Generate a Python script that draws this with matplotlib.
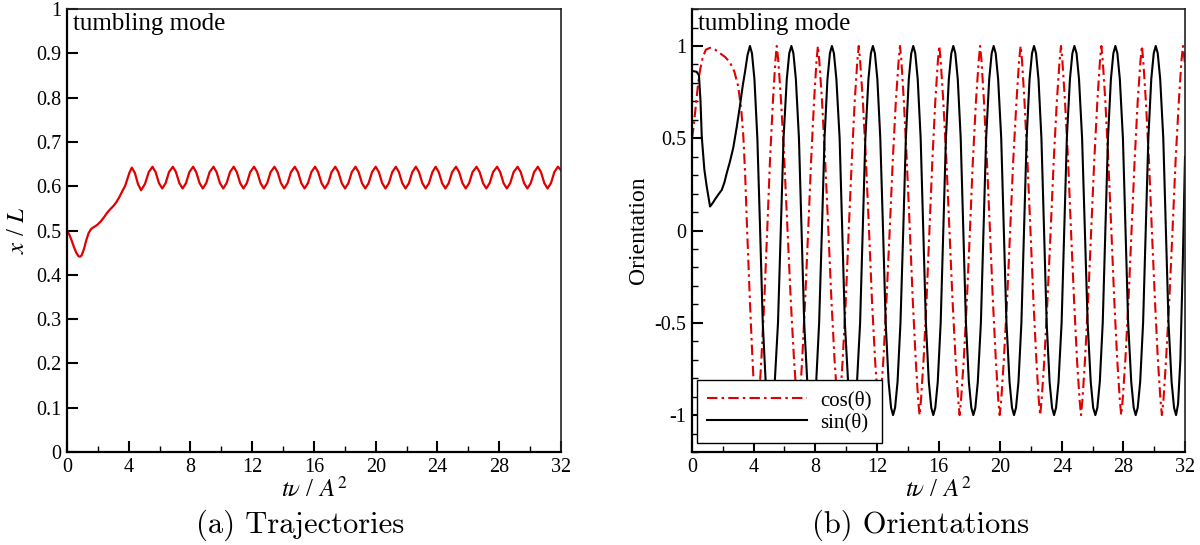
#!/usr/bin/env python3
"""Tumbling mode: particle trajectory (a) and orientation (b) over time."""

import matplotlib
matplotlib.use("Agg")
import matplotlib.pyplot as plt
from matplotlib.ticker import MultipleLocator, FormatStrFormatter

plt.rcParams["font.family"] = ["Liberation Serif", "DejaVu Serif"]
plt.rcParams["mathtext.fontset"] = "stix"
plt.rcParams["axes.unicode_minus"] = False

RED = "#e00000"

# ---- (a) trajectory x/L ----
traj_t = [
    0.0, 0.15, 0.3, 0.45, 0.6, 0.75, 0.85, 0.95, 1.1, 1.25, 1.4, 1.55, 1.7, 1.85,
    2.0, 2.2, 2.4, 2.6, 2.8, 3.0, 3.2, 3.4, 3.6, 3.76, 3.9, 4.05,
    4.2, 4.4, 4.6, 4.8, 5.05, 5.3,
    5.54, 5.74, 5.96, 6.17, 6.39, 6.61,
    6.86, 7.06, 7.28, 7.49, 7.71, 7.93,
    8.17, 8.37, 8.59, 8.80, 9.02, 9.24,
    9.49, 9.69, 9.91, 10.12, 10.34, 10.56,
    10.80, 11.00, 11.22, 11.43, 11.65, 11.87,
    12.12, 12.32, 12.54, 12.75, 12.97, 13.19,
    13.44, 13.64, 13.86, 14.07, 14.29, 14.51,
    14.76, 14.96, 15.18, 15.39, 15.61, 15.83,
    16.07, 16.27, 16.49, 16.70, 16.92, 17.14,
    17.38, 17.58, 17.80, 18.01, 18.23, 18.45,
    18.69, 18.89, 19.11, 19.32, 19.54, 19.76,
    20.00, 20.20, 20.42, 20.63, 20.85, 21.07,
    21.30, 21.50, 21.72, 21.93, 22.15, 22.37,
    22.60, 22.80, 23.02, 23.23, 23.45, 23.67,
    23.88, 24.08, 24.30, 24.51, 24.73, 24.95,
    25.20, 25.40, 25.62, 25.83, 26.05, 26.27,
    26.53, 26.73, 26.95, 27.16, 27.38, 27.60,
    27.86, 28.06, 28.28, 28.49, 28.71, 28.93,
    29.19, 29.39, 29.61, 29.82, 30.04, 30.26,
    30.50, 30.70, 30.92, 31.13, 31.35, 31.57,
    31.80, 32.00,
]
traj_x = [
    0.500, 0.491, 0.478, 0.463, 0.450, 0.442, 0.441, 0.444, 0.458, 0.478, 0.494, 0.503, 0.507, 0.510,
    0.514, 0.521, 0.530, 0.540, 0.548, 0.555, 0.564, 0.576, 0.590, 0.600, 0.615, 0.631,
    0.642, 0.630, 0.605, 0.591, 0.605, 0.632,
    0.644, 0.632, 0.607, 0.595, 0.607, 0.632,
    0.644, 0.632, 0.607, 0.595, 0.607, 0.632,
    0.644, 0.632, 0.607, 0.595, 0.607, 0.632,
    0.644, 0.632, 0.607, 0.595, 0.607, 0.632,
    0.644, 0.632, 0.607, 0.595, 0.607, 0.632,
    0.644, 0.632, 0.607, 0.595, 0.607, 0.632,
    0.644, 0.632, 0.607, 0.595, 0.607, 0.632,
    0.644, 0.632, 0.607, 0.595, 0.607, 0.632,
    0.644, 0.632, 0.607, 0.595, 0.607, 0.632,
    0.644, 0.632, 0.607, 0.595, 0.607, 0.632,
    0.644, 0.632, 0.607, 0.595, 0.607, 0.632,
    0.644, 0.632, 0.607, 0.595, 0.607, 0.632,
    0.644, 0.632, 0.607, 0.595, 0.607, 0.632,
    0.644, 0.632, 0.607, 0.595, 0.607, 0.632,
    0.644, 0.632, 0.607, 0.595, 0.607, 0.632,
    0.644, 0.632, 0.607, 0.595, 0.607, 0.632,
    0.644, 0.632, 0.607, 0.595, 0.607, 0.632,
    0.644, 0.632, 0.607, 0.595, 0.607, 0.632,
    0.644, 0.632, 0.607, 0.595, 0.607, 0.632,
    0.644, 0.632, 0.607, 0.595, 0.607, 0.632,
    0.644, 0.636,
]

# ---- (b) orientation: cos(theta) ----
cos_t = [
    0.0, 0.1, 0.25, 0.4, 0.52, 0.7, 0.9, 1.17, 1.5, 1.82, 2.15, 2.47, 2.75, 3.0,
    3.2, 3.33, 3.45, 3.55, 3.66, 3.76, 3.88, 3.98, 4.1, 4.25,
    4.34, 4.50, 4.69, 4.88, 5.06, 5.25, 5.41, 5.50,
    5.60, 5.78, 5.99, 6.20, 6.41, 6.62, 6.80, 6.90,
    6.99, 7.15, 7.34, 7.54, 7.73, 7.92, 8.08, 8.17,
    8.26, 8.44, 8.64, 8.85, 9.05, 9.25, 9.43, 9.52,
    9.61, 9.78, 9.98, 10.17, 10.37, 10.56, 10.73, 10.82,
    10.91, 11.09, 11.29, 11.49, 11.68, 11.88, 12.06, 12.15,
    12.24, 12.42, 12.62, 12.83, 13.03, 13.23, 13.41, 13.50,
    13.59, 13.75, 13.94, 14.14, 14.33, 14.52, 14.68, 14.77,
    14.86, 15.03, 15.22, 15.41, 15.60, 15.79, 15.96, 16.05,
    16.14, 16.31, 16.51, 16.71, 16.91, 17.11, 17.28, 17.37,
    17.46, 17.64, 17.84, 18.04, 18.23, 18.43, 18.61, 18.70,
    18.79, 18.95, 19.14, 19.34, 19.53, 19.72, 19.88, 19.97,
    20.07, 20.24, 20.45, 20.65, 20.85, 21.06, 21.23, 21.33,
    21.42, 21.58, 21.77, 21.97, 22.16, 22.35, 22.51, 22.60,
    22.69, 22.87, 23.07, 23.28, 23.48, 23.68, 23.86, 23.95,
    24.04, 24.21, 24.41, 24.60, 24.80, 24.99, 25.16, 25.25,
    25.34, 25.51, 25.71, 25.91, 26.11, 26.31, 26.48, 26.57,
    26.66, 26.83, 27.02, 27.22, 27.41, 27.60, 27.77, 27.86,
    27.95, 28.13, 28.33, 28.53, 28.73, 28.93, 29.11, 29.20,
    29.29, 29.46, 29.66, 29.85, 30.05, 30.24, 30.41, 30.50,
    30.60, 30.77, 30.98, 31.19, 31.39, 31.60, 31.77, 31.87,
    32.00,
]
cos_v = [
    0.50, 0.56, 0.68, 0.80, 0.87, 0.94, 0.98, 0.99, 0.98, 0.96, 0.94, 0.91, 0.86, 0.78,
    0.65, 0.51, 0.30, 0.06, -0.18, -0.39, -0.62, -0.79, -0.92, -1.00,
    -0.92, -0.70, -0.38, 0.00, 0.38, 0.70, 0.92, 1.00,
    0.92, 0.70, 0.38, 0.00, -0.38, -0.70, -0.92, -1.00,
    -0.92, -0.70, -0.38, 0.00, 0.38, 0.70, 0.92, 1.00,
    0.92, 0.70, 0.38, 0.00, -0.38, -0.70, -0.92, -1.00,
    -0.92, -0.70, -0.38, 0.00, 0.38, 0.70, 0.92, 1.00,
    0.92, 0.70, 0.38, 0.00, -0.38, -0.70, -0.92, -1.00,
    -0.92, -0.70, -0.38, 0.00, 0.38, 0.70, 0.92, 1.00,
    0.92, 0.70, 0.38, 0.00, -0.38, -0.70, -0.92, -1.00,
    -0.92, -0.70, -0.38, 0.00, 0.38, 0.70, 0.92, 1.00,
    0.92, 0.70, 0.38, 0.00, -0.38, -0.70, -0.92, -1.00,
    -0.92, -0.70, -0.38, 0.00, 0.38, 0.70, 0.92, 1.00,
    0.92, 0.70, 0.38, 0.00, -0.38, -0.70, -0.92, -1.00,
    -0.92, -0.70, -0.38, 0.00, 0.38, 0.70, 0.92, 1.00,
    0.92, 0.70, 0.38, 0.00, -0.38, -0.70, -0.92, -1.00,
    -0.92, -0.70, -0.38, 0.00, 0.38, 0.70, 0.92, 1.00,
    0.92, 0.70, 0.38, 0.00, -0.38, -0.70, -0.92, -1.00,
    -0.92, -0.70, -0.38, 0.00, 0.38, 0.70, 0.92, 1.00,
    0.92, 0.70, 0.38, 0.00, -0.38, -0.70, -0.92, -1.00,
    -0.92, -0.70, -0.38, 0.00, 0.38, 0.70, 0.92, 1.00,
    0.92, 0.70, 0.38, 0.00, -0.38, -0.70, -0.92, -1.00,
    -0.92, -0.70, -0.38, 0.00, 0.38, 0.70, 0.92, 1.00,
    0.90,
]

# ---- (b) orientation: sin(theta) ----
sin_t = [
    0.0, 0.3, 0.45, 0.55, 0.63, 0.8, 0.95, 1.17, 1.35, 1.5, 1.75, 1.93, 2.1, 2.25,
    2.45, 2.68, 2.9, 3.1, 3.3, 3.44, 3.6, 3.76,
    3.89, 4.05, 4.24, 4.42, 4.59, 4.78, 4.94, 5.07,
    5.21, 5.37, 5.58, 5.76, 5.94, 6.15, 6.31, 6.45,
    6.58, 6.74, 6.94, 7.11, 7.28, 7.48, 7.64, 7.77,
    7.90, 8.06, 8.25, 8.43, 8.60, 8.79, 8.95, 9.08,
    9.21, 9.37, 9.58, 9.75, 9.92, 10.13, 10.29, 10.42,
    10.55, 10.71, 10.91, 11.08, 11.25, 11.45, 11.61, 11.74,
    11.87, 12.03, 12.22, 12.40, 12.57, 12.76, 12.92, 13.05,
    13.18, 13.34, 13.53, 13.71, 13.88, 14.07, 14.23, 14.36,
    14.49, 14.65, 14.84, 15.01, 15.18, 15.37, 15.53, 15.66,
    15.79, 15.95, 16.14, 16.31, 16.48, 16.67, 16.83, 16.96,
    17.09, 17.25, 17.44, 17.61, 17.78, 17.97, 18.13, 18.26,
    18.39, 18.55, 18.75, 18.92, 19.09, 19.29, 19.45, 19.58,
    19.71, 19.87, 20.07, 20.24, 20.41, 20.61, 20.77, 20.90,
    21.03, 21.19, 21.38, 21.55, 21.72, 21.91, 22.07, 22.20,
    22.33, 22.49, 22.68, 22.85, 23.02, 23.21, 23.37, 23.50,
    23.63, 23.79, 23.99, 24.16, 24.33, 24.53, 24.69, 24.82,
    24.96, 25.12, 25.32, 25.50, 25.68, 25.88, 26.04, 26.18,
    26.31, 26.47, 26.66, 26.83, 27.00, 27.19, 27.35, 27.48,
    27.61, 27.77, 27.97, 28.14, 28.31, 28.51, 28.67, 28.80,
    28.93, 29.09, 29.28, 29.45, 29.62, 29.81, 29.97, 30.10,
    30.23, 30.39, 30.59, 30.76, 30.93, 31.13, 31.29, 31.42,
    31.55, 31.70, 31.85, 32.00,
]
sin_v = [
    0.865, 0.86, 0.84, 0.70, 0.51, 0.33, 0.24, 0.13, 0.15, 0.17, 0.20, 0.22, 0.26, 0.31,
    0.37, 0.45, 0.56, 0.67, 0.79, 0.86, 0.95, 1.00,
    0.96, 0.82, 0.50, 0.00, -0.50, -0.82, -0.96, -1.00,
    -0.96, -0.82, -0.50, 0.00, 0.50, 0.82, 0.96, 1.00,
    0.96, 0.82, 0.50, 0.00, -0.50, -0.82, -0.96, -1.00,
    -0.96, -0.82, -0.50, 0.00, 0.50, 0.82, 0.96, 1.00,
    0.96, 0.82, 0.50, 0.00, -0.50, -0.82, -0.96, -1.00,
    -0.96, -0.82, -0.50, 0.00, 0.50, 0.82, 0.96, 1.00,
    0.96, 0.82, 0.50, 0.00, -0.50, -0.82, -0.96, -1.00,
    -0.96, -0.82, -0.50, 0.00, 0.50, 0.82, 0.96, 1.00,
    0.96, 0.82, 0.50, 0.00, -0.50, -0.82, -0.96, -1.00,
    -0.96, -0.82, -0.50, 0.00, 0.50, 0.82, 0.96, 1.00,
    0.96, 0.82, 0.50, 0.00, -0.50, -0.82, -0.96, -1.00,
    -0.96, -0.82, -0.50, 0.00, 0.50, 0.82, 0.96, 1.00,
    0.96, 0.82, 0.50, 0.00, -0.50, -0.82, -0.96, -1.00,
    -0.96, -0.82, -0.50, 0.00, 0.50, 0.82, 0.96, 1.00,
    0.96, 0.82, 0.50, 0.00, -0.50, -0.82, -0.96, -1.00,
    -0.96, -0.82, -0.50, 0.00, 0.50, 0.82, 0.96, 1.00,
    0.96, 0.82, 0.50, 0.00, -0.50, -0.82, -0.96, -1.00,
    -0.96, -0.82, -0.50, 0.00, 0.50, 0.82, 0.96, 1.00,
    0.96, 0.82, 0.50, 0.00, -0.50, -0.82, -0.96, -1.00,
    -0.96, -0.82, -0.50, 0.00, 0.50, 0.82, 0.96, 1.00,
    0.96, 0.82, 0.50, 0.00, -0.50, -0.82, -0.96, -1.00,
    -0.94, -0.70, -0.20, 0.40,
]


def style_axes(ax):
    for side in ("left", "bottom"):
        ax.spines[side].set_linewidth(1.6)
    for side in ("top", "right"):
        ax.spines[side].set_linewidth(1.2)
        ax.spines[side].set_color("#222222")
    ax.tick_params(which="both", direction="in", top=False, right=False,
                   labelsize=14.5, pad=4)
    ax.tick_params(which="major", length=8, width=1.5)
    ax.tick_params(which="minor", length=4, width=1.0)
    ax.set_xlim(0, 32)
    ax.xaxis.set_major_locator(MultipleLocator(4))
    ax.xaxis.set_minor_locator(MultipleLocator(2))
    ax.set_xlabel(r"$t\nu$ / $A^{2}$", fontsize=18, labelpad=0)
    ax.text(0.012, 0.992, "tumbling mode", transform=ax.transAxes,
            ha="left", va="top", fontsize=18)


fig = plt.figure(figsize=(12, 5.45), dpi=100)
ax1 = fig.add_axes([0.0558, 0.1706, 0.4117, 0.8128])
ax2 = fig.add_axes([0.5767, 0.1706, 0.4108, 0.8128])

# (a) trajectory
ax1.plot(traj_t, traj_x, color=RED, lw=1.6)
style_axes(ax1)
ax1.set_ylim(0, 1)
ax1.yaxis.set_major_locator(MultipleLocator(0.1))
ax1.yaxis.set_major_formatter(FormatStrFormatter("%g"))
ax1.set_ylabel(r"$x$ / $L$", fontsize=18, labelpad=5)

# (b) orientations
ax2.plot(cos_t, cos_v, color=RED, lw=1.5, linestyle=(0, (5, 2, 1.2, 2)),
         label="cos(θ)")
ax2.plot(sin_t, sin_v, color="black", lw=1.5, label="sin(θ)")
style_axes(ax2)
ax2.set_ylim(-1.2, 1.2)
ax2.yaxis.set_major_locator(MultipleLocator(0.5))
ax2.yaxis.set_minor_locator(MultipleLocator(0.1))
ax2.yaxis.set_major_formatter(FormatStrFormatter("%g"))
ax2.set_ylabel("Orientation", fontsize=17, labelpad=4)
leg = ax2.legend(loc="lower left", bbox_to_anchor=(0.01, 0.02), borderaxespad=0,
                 fontsize=15, handlelength=4.8, handletextpad=0.6,
                 labelspacing=0.15, borderpad=0.5, fancybox=False,
                 framealpha=1, edgecolor="black")
leg.get_frame().set_linewidth(1.0)

# sub-figure captions
fig.text(0.25, 0.036, "(a) Trajectories", ha="center", va="center",
         fontsize=22, family="cmr10")
fig.text(0.767, 0.036, "(b) Orientations", ha="center", va="center",
         fontsize=22, family="cmr10")

fig.savefig("out.png", dpi=100)
